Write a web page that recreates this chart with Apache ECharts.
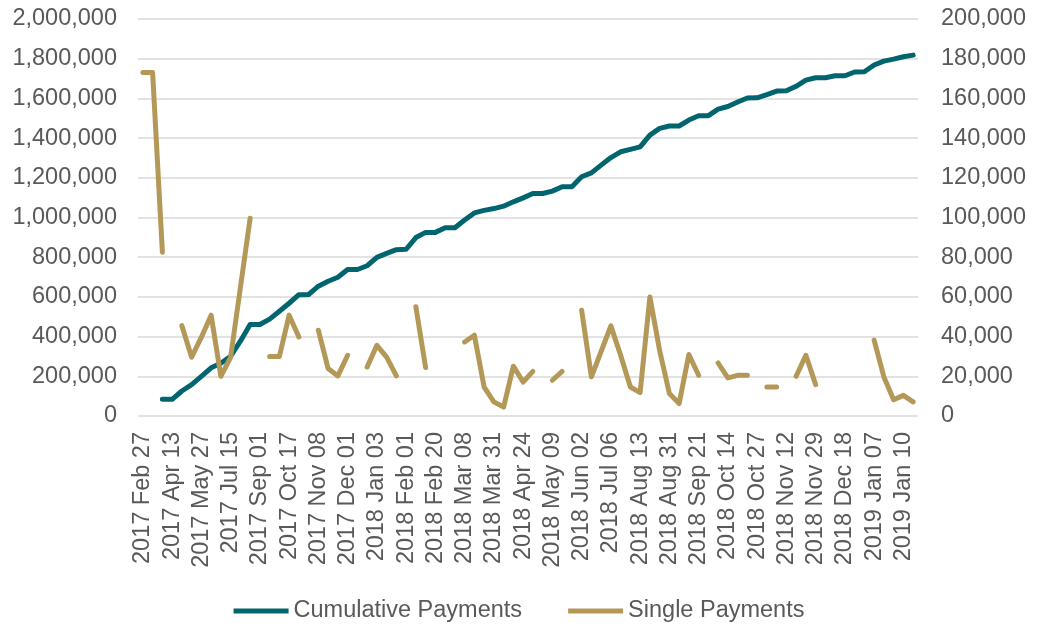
<!DOCTYPE html>
<html>
<head>
<meta charset="utf-8">
<script src="https://cdn.jsdelivr.net/npm/echarts@6/dist/echarts.min.js"></script>
<style>
  html, body { margin: 0; padding: 0; background: #ffffff; }
  #chart { width: 1038px; height: 627px; }
</style>
</head>
<body>
<div id="chart"></div>
<script>
// Tick labels shown on the category axis (every third payment date)
const tickLabels = [
  '2017 Feb 27', '2017 Apr 13', '2017 May 27', '2017 Jul 15', '2017 Sep 01',
  '2017 Oct 17', '2017 Nov 08', '2017 Dec 01', '2018 Jan 03', '2018 Feb 01',
  '2018 Feb 20', '2018 Mar 08', '2018 Mar 31', '2018 Apr 24', '2018 May 09',
  '2018 Jun 02', '2018 Jul 06', '2018 Aug 13', '2018 Aug 31', '2018 Sep 21',
  '2018 Oct 14', '2018 Oct 27', '2018 Nov 12', '2018 Nov 29', '2018 Dec 18',
  '2019 Jan 07', '2019 Jan 10'
];
const labelStep = 3;

// Running total of payments (left axis)
const cumulativePayments = [
  null, null, 84000, 84000, 126000, 158000, 200000, 243000, 266000, 301000,
  377000, 461000, 461000, 488000, 528000, 568000, 611000, 612000, 654000, 679000,
  699000, 738000, 738000, 757000, 799000, 819000, 838000, 840000, 899000, 925000,
  925000, 948000, 948000, 987000, 1023000, 1036000, 1045000, 1057000, 1079000, 1099000,
  1121000, 1121000, 1133000, 1155000, 1155000, 1205000, 1225000, 1264000, 1302000, 1331000,
  1343000, 1356000, 1415000, 1449000, 1461000, 1461000, 1491000, 1513000, 1513000, 1546000,
  1559000, 1582000, 1602000, 1603000, 1619000, 1637000, 1638000, 1661000, 1692000, 1704000,
  1704000, 1714000, 1714000, 1733000, 1734000, 1768000, 1788000, 1798000, 1810000, 1818000
];

// Individual payment amounts (right axis); null = no payment recorded
const singlePayments = [
  173000, 173000, 82500, null, 45500, 29600, 39700, 50800, 20000, 29600,
  64600, 99600, null, 30000, 30000, 50800, 39800, null, 43200, 23900,
  20200, 30600, null, 24700, 35600, 29700, 20200, null, 55000, 24400,
  null, null, null, 37300, 40700, 14600, 7100, 4500, 25100, 17100,
  22500, null, 18000, 22500, null, 53300, 19700, 32500, 45400, 30600,
  14600, 11800, 60000, 33000, 11300, 6300, 31000, 20500, null, 26700,
  19200, 20500, 20500, null, 14600, 14600, null, 20000, 30600, 15800,
  null, null, null, null, null, 38200, 19700, 8200, 10400, 7100
];

// Category slots: one per payment date, labelled every third slot
const categories = cumulativePayments.map((_, i) =>
  i % labelStep === 0 ? (tickLabels[i / labelStep] || '') : ''
);

const TEAL = '#016570';
const GOLD = '#b39858';
const TEXT = '#595959';
const GRID = '#d9d9d9';
const FONT = '"Liberation Sans", Arial, sans-serif';
const FS = 23.5;

const fmt = v => v.toLocaleString('en-US');

const chart = echarts.init(document.getElementById('chart'), null, { renderer: 'canvas' });

chart.setOption({
  animation: false,
  backgroundColor: '#ffffff',
  textStyle: { fontFamily: FONT, color: TEXT },
  grid: { left: 138, right: 120, top: 19, bottom: 211, containLabel: false },
  legend: {
    top: 594,
    left: 'center',
    itemWidth: 55,
    itemHeight: 5,
    itemGap: 46,
    icon: 'rect',
    textStyle: { fontFamily: FONT, fontSize: FS, color: TEXT },
    data: ['Cumulative Payments', 'Single Payments']
  },
  xAxis: {
    type: 'category',
    data: categories,
    boundaryGap: true,
    axisLine: { show: false },
    axisTick: { show: false },
    axisLabel: {
      interval: labelStep - 1,
      rotate: 90,
      margin: 16,
      fontFamily: FONT,
      fontSize: FS,
      color: TEXT
    },
    splitLine: { show: false }
  },
  yAxis: [
    {
      type: 'value',
      min: 0,
      max: 2000000,
      interval: 200000,
      axisLine: { show: false },
      axisTick: { show: false },
      axisLabel: { margin: 21, fontFamily: FONT, fontSize: FS, color: TEXT, formatter: fmt },
      splitLine: { show: true, lineStyle: { color: GRID, width: 1.5 } }
    },
    {
      type: 'value',
      min: 0,
      max: 200000,
      interval: 20000,
      position: 'right',
      axisLine: { show: false },
      axisTick: { show: false },
      axisLabel: { margin: 23, fontFamily: FONT, fontSize: FS, color: TEXT, formatter: fmt },
      splitLine: { show: false }
    }
  ],
  series: [
    {
      name: 'Cumulative Payments',
      type: 'line',
      yAxisIndex: 0,
      data: cumulativePayments,
      showSymbol: false,
      symbol: 'none',
      connectNulls: false,
      color: TEAL,
      lineStyle: { color: TEAL, width: 5, cap: 'round', join: 'round' }
    },
    {
      name: 'Single Payments',
      type: 'line',
      yAxisIndex: 1,
      data: singlePayments,
      showSymbol: false,
      symbol: 'none',
      connectNulls: false,
      color: GOLD,
      lineStyle: { color: GOLD, width: 5, cap: 'round', join: 'round' }
    }
  ]
});
</script>
</body>
</html>
